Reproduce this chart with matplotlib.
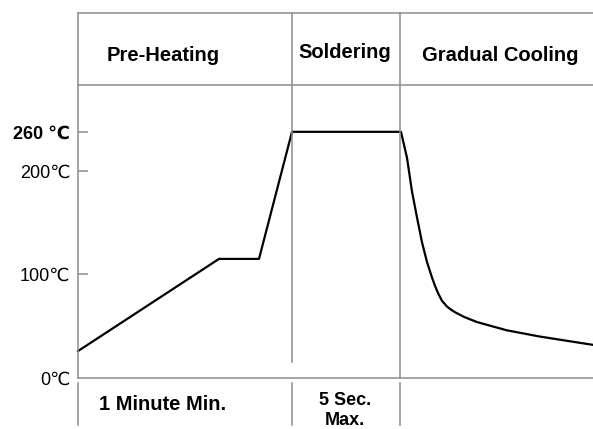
import matplotlib
matplotlib.use('Agg')
import matplotlib.pyplot as plt
import numpy as np

plt.rcParams['font.family'] = ['Liberation Sans', 'DejaVu Sans']

# reflow profile (schematic time units, temperature in C)
time = [0, 141, 181, 214, 322, 323, 329, 334, 339, 344, 349, 354, 357,
        360, 364, 369, 373, 377, 386, 399, 429, 462, 495, 515]
temp = [26, 115, 115, 260, 260, 260, 220, 180, 155, 131, 112, 97, 89,
        82, 74.5, 69, 66, 63.5, 59, 54, 46, 40, 35, 32]

phase_edges = [214, 322]
phase_names = ['Pre-Heating', 'Soldering', 'Gradual Cooling']
phase_x = [85, 266.5, 422]
phase_y = [1.082, 1.092, 1.082]
duration_x = [85, 267]

yticks = [0, 100, 200, 260]
ylabels = ['0\u2103', '100\u2103', '200\u2103', '260 \u2103']

def fwd(t):
    t = np.asarray(t, dtype=float)
    return np.where(t <= 200, t, 200 + (t - 200) * 0.628)

def inv(u):
    u = np.asarray(u, dtype=float)
    return np.where(u <= 200, u, 200 + (u - 200) / 0.628)

grey = '#8c8c8c'
lw = 1.1

fig = plt.figure(figsize=(5.93, 4.29), dpi=100)
ax = fig.add_axes([78/593, 51/429, 515/593, 293/429])
ax.set_yscale('function', functions=(fwd, inv))
ax.set_xlim(0, 515)
ax.set_ylim(0, 332)

ax.plot(time, temp, color='black', lw=1.6, solid_joinstyle='round', clip_on=False)

for s in ['left', 'bottom', 'top']:
    ax.spines[s].set_color(grey)
    ax.spines[s].set_linewidth(lw)
ax.spines['right'].set_visible(False)

ax.set_xticks([])
ax.set_yticks(yticks, ylabels)
ax.tick_params(axis='y', direction='in', length=7, width=lw, color=grey,
               labelsize=13, pad=5.5)
ax.get_yticklabels()[3].set_fontweight('bold')
ax.yaxis.get_major_ticks()[0].tick1line.set_visible(False)

# header box
ax.plot([0, 1], [1.2457, 1.2457], transform=ax.transAxes, color=grey, lw=lw, clip_on=False)
ax.plot([0, 0], [1, 1.2457], transform=ax.transAxes, color=grey, lw=lw, clip_on=False)
tr = ax.get_xaxis_transform()
ax.plot([phase_edges[0]] * 2, [0.0546, 1.2457], transform=tr, color=grey, lw=lw, clip_on=False)
ax.plot([phase_edges[1]] * 2, [0, 1.2457], transform=tr, color=grey, lw=lw, clip_on=False)

# duration row
for xe in [0] + phase_edges:
    ax.plot([xe, xe], [-0.0171, -0.1604], transform=tr, color=grey, lw=lw, clip_on=False)

for name, x, y in zip(phase_names, phase_x, phase_y):
    ax.text(x, y, name, transform=tr, ha='center', va='baseline',
            fontsize=14.5, fontweight='bold')

ax.text(duration_x[0], -0.1092, '1 Minute Min.', transform=tr, ha='center',
        va='baseline', fontsize=14.5, fontweight='bold')
ax.text(duration_x[1], -0.0922, '5 Sec.', transform=tr, ha='center',
        va='baseline', fontsize=13, fontweight='bold')
ax.text(duration_x[1], -0.1604, 'Max.', transform=tr, ha='center',
        va='baseline', fontsize=13, fontweight='bold')

fig.savefig('out.png', dpi=100)
